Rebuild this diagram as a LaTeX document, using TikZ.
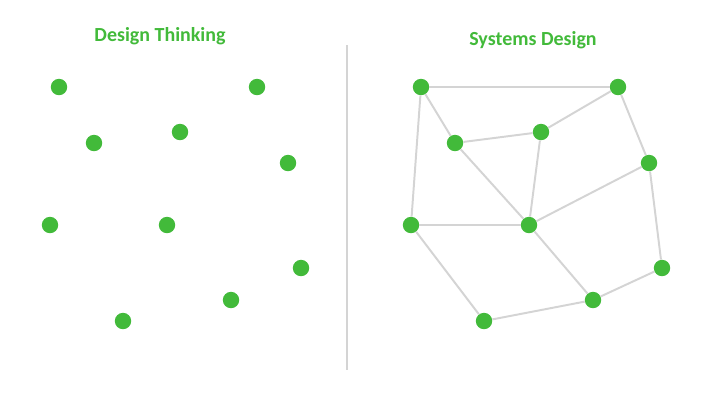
\documentclass[tikz,border=0pt]{standalone}
\usepackage{fontspec}
\setmainfont{Carlito}
\usepackage{xcolor}
\usepackage{tikz}
\usetikzlibrary{positioning,calc}

\definecolor{dotgreen}{RGB}{66,186,58}
\definecolor{edgegray}{RGB}{212,212,212}

\begin{document}
\begin{tikzpicture}[
  x=0.025cm, y=-0.025cm,
  dot/.style={circle, fill=dotgreen, inner sep=0pt, minimum size=0.41cm},
  ttl/.style={font=\fontsize{14.2}{16}\selectfont\bfseries, text=dotgreen},
  ln/.style={draw=edgegray, line width=1.4pt}
]
  \useasboundingbox (0,0) rectangle (720,410);
  % titles
  \node[ttl] (tleft) at (160,36) {Design Thinking};
  \node[ttl] (tright) at (533,40) {Systems Design};
  % divider
  \coordinate (dtop) at (347,45);
  \coordinate (dbot) at (347,370);
  \draw[ln] (dtop) -- (dbot);
  % loose dots
  \node[dot] (l1) at (59,87) {};
  \node[dot] (l2) at (257,87) {};
  \node[dot] (l3) at (94,143) {};
  \node[dot] (l4) at (180,132) {};
  \node[dot] (l5) at (288,163) {};
  \node[dot] (l6) at (50,225) {};
  \node[dot] (l7) at (167,225) {};
  \node[dot] (l8) at (301,268) {};
  \node[dot] (l9) at (231,300) {};
  \node[dot] (l10) at (123,321) {};
  % connected dots
  \node[dot] (r1) at (421,87) {};
  \node[dot] (r2) at (618,87) {};
  \node[dot] (r3) at (455,143) {};
  \node[dot] (r4) at (541,132) {};
  \node[dot] (r5) at (649,163) {};
  \node[dot] (r6) at (411,225) {};
  \node[dot] (r7) at (529,225) {};
  \node[dot] (r8) at (662,268) {};
  \node[dot] (r9) at (593,300) {};
  \node[dot] (r10) at (484,321) {};
  \draw[ln] (r1) -- (r2);
  \draw[ln] (r1) -- (r3);
  \draw[ln] (r1) -- (r6);
  \draw[ln] (r3) -- (r4);
  \draw[ln] (r3) -- (r7);
  \draw[ln] (r4) -- (r2);
  \draw[ln] (r4) -- (r7);
  \draw[ln] (r2) -- (r5);
  \draw[ln] (r5) -- (r7);
  \draw[ln] (r5) -- (r8);
  \draw[ln] (r6) -- (r7);
  \draw[ln] (r6) -- (r10);
  \draw[ln] (r7) -- (r9);
  \draw[ln] (r10) -- (r9);
  \draw[ln] (r9) -- (r8);
\end{tikzpicture}
\end{document}
